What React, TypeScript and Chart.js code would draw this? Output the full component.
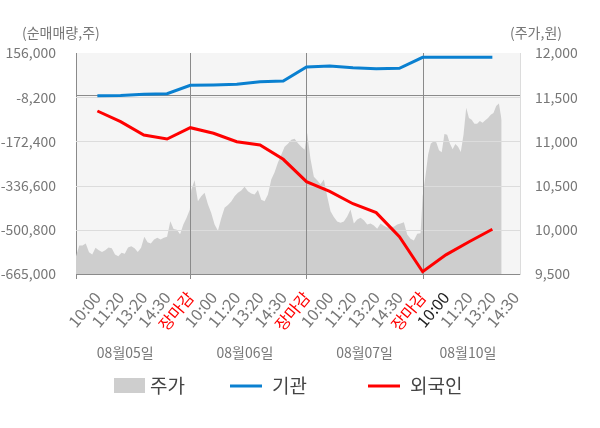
import { useEffect, useRef } from "react";
import { Chart, ChartConfiguration, Plugin, registerables } from "chart.js";

Chart.register(...registerables);

const FONT = "'Noto Sans CJK KR', 'Noto Sans', sans-serif";

// x tick labels, one per slot (1..19)
const tickLabels = [
  "10:00", "11:20", "13:20", "14:30", "장마감",
  "10:00", "11:20", "13:20", "14:30", "장마감",
  "10:00", "11:20", "13:20", "14:30", "장마감",
  "10:00", "11:20", "13:20", "14:30",
];
const dayLabels = ["08월05일", "08월06일", "08월07일", "08월10일"];

// net buying (shares) at slots 1..18
const institution = [
  -2600, -1900, 2600, 4800, 36000,
  37100, 39700, 49400, 52000, 104000,
  107700, 101400, 97700, 99200, 140000,
  140000, 140000, 140000,
];
const foreign = [
  -59500, -99200, -148600, -163500, -121500,
  -142300, -173500, -185800, -238900, -322100,
  -358000, -404000, -437000, -526500, -656500,
  -594000, -545000, -498900,
];

// intraday price, per day
const price0805 = [
  9700, 9823, 9823, 9845, 9747, 9721, 9797, 9770, 9750, 9770,
  9800, 9790, 9721, 9700, 9740, 9729, 9800, 9815, 9790, 9750,
  9797, 9921, 9860, 9845, 9890, 9910, 9890, 9910, 9921, 10097,
  10010, 10000, 9950, 10060, 10136, 10229,
];
const price0806 = [
  10450, 10560, 10323, 10380, 10420, 10290, 10190, 10060, 9990, 10130,
  10250, 10280, 10320, 10380, 10420, 10445, 10486, 10436, 10410, 10400,
  10450, 10340, 10323, 10399, 10570, 10650, 10760, 10850, 10940, 10974,
  11019, 11030, 10980, 10940, 10906,
];
const price0807 = [
  11094, 10800, 10600, 10560, 10515, 10568, 10380, 10210, 10145, 10095,
  10079, 10095, 10150, 10230, 10071, 10116, 10135, 10108, 10060, 10071,
  10049, 10011, 10070, 10045, 10025, 10034, 10034, 10060, 10071, 10086,
  9947, 9900, 9880, 9955, 9960,
];
const price0810 = [
  10380, 10600, 10850, 10975, 11000, 10990, 10900, 10876, 11084, 11075,
  10975, 10910, 10970, 10940, 10880, 11075, 11380, 11265, 11245, 11200,
  11200, 11230, 11210, 11240, 11264, 11302, 11320, 11400, 11430, 11240,
];

const dayPrices = [price0805, price0806, price0807, price0810];
const daySpans: [number, number][] = [
  [0.08, 4.98],
  [5.04, 9.92],
  [10.03, 14.91],
  [15.0, 18.4],
];
const dayLabelAt = [2.2, 7.35, 12.5, 16.95];

const BLUE = "#0a80d0";
const RED = "#ff0000";
const AREA = "#cecece";

const pricePoints = dayPrices.flatMap((arr, d) => {
  const [a, b] = daySpans[d];
  return arr.map((v, i) => ({ x: a + (i * (b - a)) / (arr.length - 1), y: v }));
});
const slotPoints = (vals: number[]) => vals.map((v, i) => ({ x: i + 1, y: v }));

const decor: Plugin = {
  id: "decor",
  beforeDraw(chart) {
    const { ctx, chartArea: a } = chart;
    ctx.save();
    ctx.fillStyle = "#f5f5f5";
    ctx.fillRect(a.left, a.top, a.right - a.left, a.bottom - a.top);
    ctx.restore();
  },
  afterDatasetDraw(chart, args) {
    if (args.index !== 0) return;
    const { ctx, chartArea: a, scales } = chart;
    const y = scales.y;
    const x = scales.x;
    ctx.save();
    ctx.lineWidth = 1;
    ctx.strokeStyle = "#dcdcdc";
    y.ticks.forEach((t) => {
      if (t.value === y.max || t.value === y.min) return;
      const py = Math.round(y.getPixelForValue(t.value)) + 0.5;
      ctx.beginPath();
      ctx.moveTo(a.left, py);
      ctx.lineTo(a.right, py);
      ctx.stroke();
    });
    ctx.strokeStyle = "#8a8a8a";
    const zy = Math.round(y.getPixelForValue(0)) + 0.5;
    ctx.beginPath();
    ctx.moveTo(a.left, zy);
    ctx.lineTo(a.right, zy);
    ctx.stroke();
    tickLabels.forEach((l, i) => {
      if (l !== "장마감") return;
      const px = Math.round(x.getPixelForValue(i + 1)) + 0.5;
      ctx.beginPath();
      ctx.moveTo(px, a.top);
      ctx.lineTo(px, a.bottom + 5);
      ctx.stroke();
    });
    ctx.beginPath();
    ctx.moveTo(a.left + 0.5, a.bottom);
    ctx.lineTo(a.left + 0.5, a.bottom + 5);
    ctx.stroke();
    ctx.restore();
  },
  afterDraw(chart) {
    const { ctx, chartArea: a, scales } = chart;
    ctx.save();
    ctx.font = `14px ${FONT}`;
    ctx.fillStyle = "#777";
    ctx.textBaseline = "middle";
    ctx.textAlign = "left";
    ctx.fillText("(순매매량,주)", 22, 33);
    ctx.textAlign = "right";
    ctx.fillText("(주가,원)", 562, 33);
    ctx.textAlign = "center";
    dayLabels.forEach((l, i) => {
      ctx.fillText(l, scales.x.getPixelForValue(dayLabelAt[i]), 353);
    });

    // legend
    const ly = 386;
    ctx.font = `19px ${FONT}`;
    ctx.fillStyle = "#444";
    ctx.textAlign = "left";
    ctx.fillStyle = AREA;
    ctx.fillRect(114, ly - 8, 31, 15);
    ctx.fillStyle = "#444";
    ctx.fillText("주가", 150, ly);
    ctx.lineWidth = 3;
    ctx.strokeStyle = BLUE;
    ctx.beginPath();
    ctx.moveTo(230, ly);
    ctx.lineTo(262, ly);
    ctx.stroke();
    ctx.fillText("기관", 272, ly);
    ctx.strokeStyle = RED;
    ctx.beginPath();
    ctx.moveTo(368, ly);
    ctx.lineTo(400, ly);
    ctx.stroke();
    ctx.fillText("외국인", 410, ly);
    ctx.restore();
    void a;
  },
};

export default function App() {
  const chartRef = useRef<HTMLCanvasElement>(null);
  const chartInstance = useRef<Chart | null>(null);

  useEffect(() => {
    if (!chartRef.current) return;
    if (chartInstance.current) chartInstance.current.destroy();
    const ctx = chartRef.current.getContext("2d");
    if (!ctx) return;

    const config: ChartConfiguration = {
      type: "line",
      data: {
        datasets: [
          {
            label: "주가",
            data: pricePoints,
            yAxisID: "y1",
            fill: "start",
            backgroundColor: AREA,
            borderWidth: 0,
            pointRadius: 0,
            tension: 0,
            order: 3,
          },
          {
            label: "기관",
            data: slotPoints(institution),
            yAxisID: "y",
            borderColor: BLUE,
            borderWidth: 3,
            pointRadius: 0,
            fill: false,
            order: 2,
          },
          {
            label: "외국인",
            data: slotPoints(foreign),
            yAxisID: "y",
            borderColor: RED,
            borderWidth: 3,
            pointRadius: 0,
            fill: false,
            order: 1,
          },
        ] as any,
      },
      options: {
        responsive: false,
        animation: false,
        layout: { padding: { top: 53, left: 0, right: 0, bottom: 0 } },
        plugins: {
          legend: { display: false },
          tooltip: { enabled: false },
        },
        scales: {
          x: {
            type: "linear",
            min: 0.08,
            max: 19.19,
            grid: { display: false },
            border: { display: true, color: "#8a8a8a" },
            afterBuildTicks: (scale: any) => {
              scale.ticks = tickLabels.map((_, i) => ({ value: i + 1 }));
            },
            afterFit: (scale: any) => {
              scale.height = 154;
            },
            ticks: {
              autoSkip: false,
              minRotation: 50,
              maxRotation: 50,
              padding: 6,
              font: { family: FONT, size: 16 },
              color: (c: any) => {
                const l = tickLabels[c.tick.value - 1];
                if (l === "장마감") return RED;
                if (c.tick.value === 16) return "#222";
                return "#777";
              },
              callback: (v: any) => tickLabels[Number(v) - 1] ?? "",
            },
          },
          y: {
            position: "left",
            min: -665000,
            max: 156000,
            grid: { display: false },
            border: { display: true, color: "#8a8a8a" },
            afterFit: (scale: any) => {
              scale.width = 76;
            },
            ticks: {
              stepSize: 164200,
              padding: 12,
              font: { family: FONT, size: 14 },
              color: "#777",
              callback: (v: any) => Number(v).toLocaleString("en-US"),
            },
          },
          y1: {
            position: "right",
            min: 9500,
            max: 12000,
            grid: { display: false },
            border: { display: true, color: "#dcdcdc" },
            afterFit: (scale: any) => {
              scale.width = 80;
            },
            ticks: {
              stepSize: 500,
              padding: 7,
              font: { family: FONT, size: 14 },
              color: "#777",
              callback: (v: any) => Number(v).toLocaleString("en-US"),
            },
          },
        },
      },
      plugins: [decor],
    };

    chartInstance.current = new Chart(ctx, config);
    return () => {
      if (chartInstance.current) {
        chartInstance.current.destroy();
        chartInstance.current = null;
      }
    };
  }, []);

  return (
    <div style={{ position: "absolute", left: 0, top: 0, width: 600, height: 428, background: "#fff" }}>
      <canvas ref={chartRef} width={600} height={428} style={{ width: 600, height: 428 }}></canvas>
    </div>
  );
}
